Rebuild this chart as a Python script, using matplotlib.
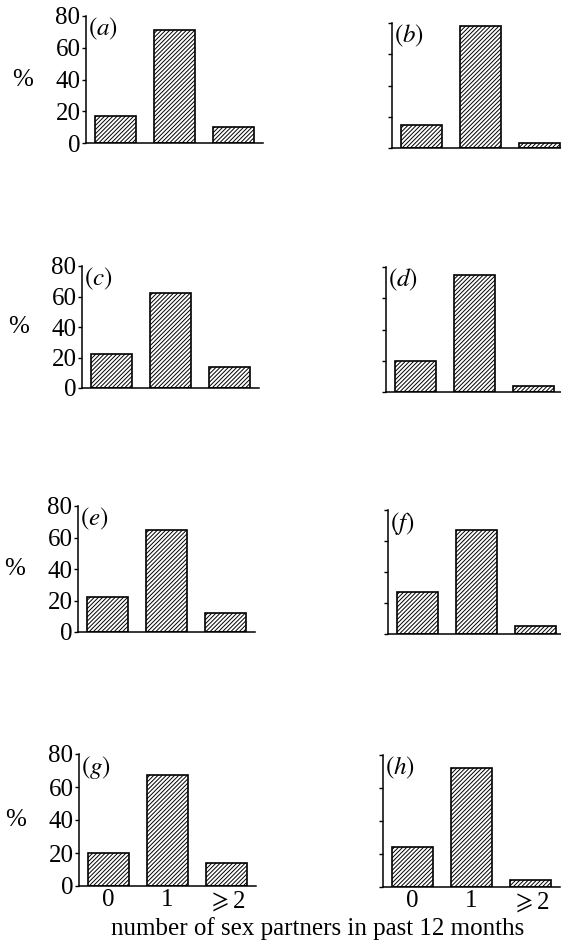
import numpy as np
import matplotlib.pyplot as plt

plt.rcParams['font.family'] = ['Liberation Serif', 'DejaVu Serif']
plt.rcParams['mathtext.fontset'] = 'stix'
plt.rcParams['hatch.linewidth'] = 0.7

# share of respondents (%) by number of sex partners, one list per panel
categories = ['0', '1', r'$\geqslant$2']
panel_letters = ['a', 'b', 'c', 'd', 'e', 'f', 'g', 'h']
pct_a = [17, 71, 10]
pct_b = [15, 78, 3]
pct_c = [22, 62, 14]
pct_d = [20, 75, 4]
pct_e = [22, 65, 12]
pct_f = [27, 67, 5]
pct_g = [20, 67, 14]
pct_h = [24, 72, 4]
panel_values = [pct_a, pct_b, pct_c, pct_d, pct_e, pct_f, pct_g, pct_h]
y_ticks = [0, 20, 40, 60, 80]

W, H = 561, 941
fig = plt.figure(figsize=(W / 100, H / 100), dpi=100)

# axes boxes in pixels: left edge, y of the 80 line, y of the 0 line
boxes = [(86, 16, 143), (392, 23, 148),
         (82, 266, 388), (386, 267, 392),
         (78, 506, 632), (388, 510, 634),
         (79, 754, 886), (383, 755, 887)]
ax_w = 177
fs = 18

x = np.arange(len(categories))
for i, (vals, letter, (lpx, tpx, bpx)) in enumerate(zip(panel_values, panel_letters, boxes)):
    ax = fig.add_axes([lpx / W, 1 - bpx / H, ax_w / W, (bpx - tpx) / H])
    ax.bar(x, vals, width=0.7, color='white', edgecolor='black',
           hatch='////////', linewidth=1.2)
    ax.set_xlim(-0.5, 2.5)
    ax.set_ylim(0, 80)
    ax.set_yticks(y_ticks)
    for side in ('top', 'right'):
        ax.spines[side].set_visible(False)
    ax.spines['left'].set_linewidth(1.1)
    ax.spines['bottom'].set_linewidth(1.1)
    ax.tick_params(axis='y', direction='out', length=3, width=1, pad=1,
                   labelsize=fs)
    if i % 2 == 1:
        ax.tick_params(axis='y', labelleft=False)
    else:
        ax.text(-0.36, 0.5, '%', transform=ax.transAxes, ha='center',
                va='center', fontsize=fs)
    if i >= 6:
        ax.set_xticks(x)
        ax.set_xticklabels(categories)
        ax.tick_params(axis='x', length=0, pad=2, labelsize=fs)
    else:
        ax.set_xticks([])
    ax.text(0.01, 1.0, r'$(\mathit{' + letter + r'})$', transform=ax.transAxes,
            ha='left', va='top', fontsize=fs)

fig.text(318 / W, 1 - 935 / H, 'number of sex partners in past 12 months',
         ha='center', va='baseline', fontsize=fs)

fig.savefig('out.png', dpi=100)
